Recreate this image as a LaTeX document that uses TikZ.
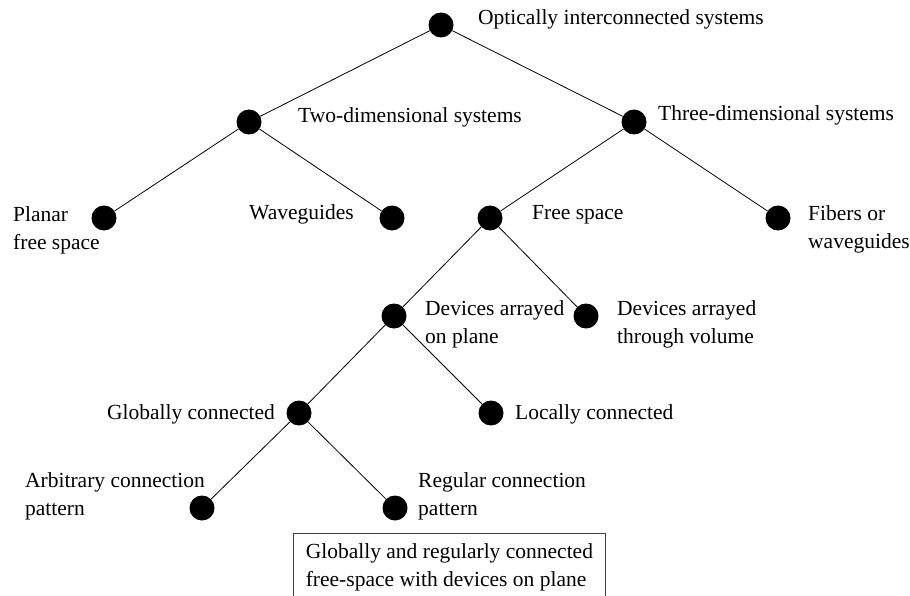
\documentclass[tikz,border=0pt]{standalone}
\usepackage{fontspec}
\setmainfont{Liberation Serif}
\begin{document}
\begin{tikzpicture}[x=1pt,y=-1pt,
  dot/.style={circle,fill=black,inner sep=0pt,minimum size=25pt},
  edge/.style={draw=black,line width=0.8pt},
  lbl/.style={inner sep=0pt,align=left,font=\fontsize{21.5}{28}\selectfont},
  resultbox/.style={draw=black!75,line width=0.8pt,inner sep=0pt,align=left,
    font=\fontsize{21.5}{28}\selectfont,minimum width=312pt,minimum height=68pt}]
\useasboundingbox (0,0) rectangle (910,596);

% tree nodes
\node[dot] (root)   at (441,25)  {};
\node[dot] (two)    at (249,122) {};
\node[dot] (three)  at (634,122) {};
\node[dot] (planar) at (104,218) {};
\node[dot] (wave)   at (392,218) {};
\node[dot] (free)   at (490,218) {};
\node[dot] (fiber)  at (778,218) {};
\node[dot] (plane)  at (394,316) {};
\node[dot] (volume) at (586,316) {};
\node[dot] (global) at (299,413) {};
\node[dot] (local)  at (491,413) {};
\node[dot] (arb)    at (202,508) {};
\node[dot] (reg)    at (395,508) {};

% connectors
\draw[edge] (root) -- (two);
\draw[edge] (root) -- (three);
\draw[edge] (two) -- (planar);
\draw[edge] (two) -- (wave);
\draw[edge] (three) -- (free);
\draw[edge] (three) -- (fiber);
\draw[edge] (free) -- (plane);
\draw[edge] (free) -- (volume);
\draw[edge] (plane) -- (global);
\draw[edge] (plane) -- (local);
\draw[edge] (global) -- (arb);
\draw[edge] (global) -- (reg);

% labels (two-line labels are placed by the baseline of their last line)
\node[lbl,anchor=base west] (lroot)   at (478,25)  {Optically interconnected systems};
\node[lbl,anchor=base west] (ltwo)    at (298,123) {Two-dimensional systems};
\node[lbl,anchor=base west] (lthree)  at (658,121) {Three-dimensional systems};
\node[lbl,anchor=base west] (lplanar) at (13,249)  {Planar\\free space};
\node[lbl,anchor=base west] (lwave)   at (249,220) {Waveguides};
\node[lbl,anchor=base west] (lfree)   at (532,220) {Free space};
\node[lbl,anchor=base west] (lfiber)  at (808,248) {Fibers or\\waveguides};
\node[lbl,anchor=base west] (lplane)  at (425,343) {Devices arrayed\\on plane};
\node[lbl,anchor=base west] (lvolume) at (617,343) {Devices arrayed\\through volume};
\node[lbl,anchor=base east] (lglobal) at (275,419) {Globally connected};
\node[lbl,anchor=base west] (llocal)  at (515,419) {Locally connected};
\node[lbl,anchor=base west] (larb)    at (25,515)  {Arbitrary connection\\pattern};
\node[lbl,anchor=base west] (lreg)    at (418,515) {Regular connection\\pattern};

% resulting class
\node[resultbox,anchor=north west] (result) at (293,533)
  {Globally and regularly connected\\free-space with devices on plane};
\end{tikzpicture}
\end{document}
